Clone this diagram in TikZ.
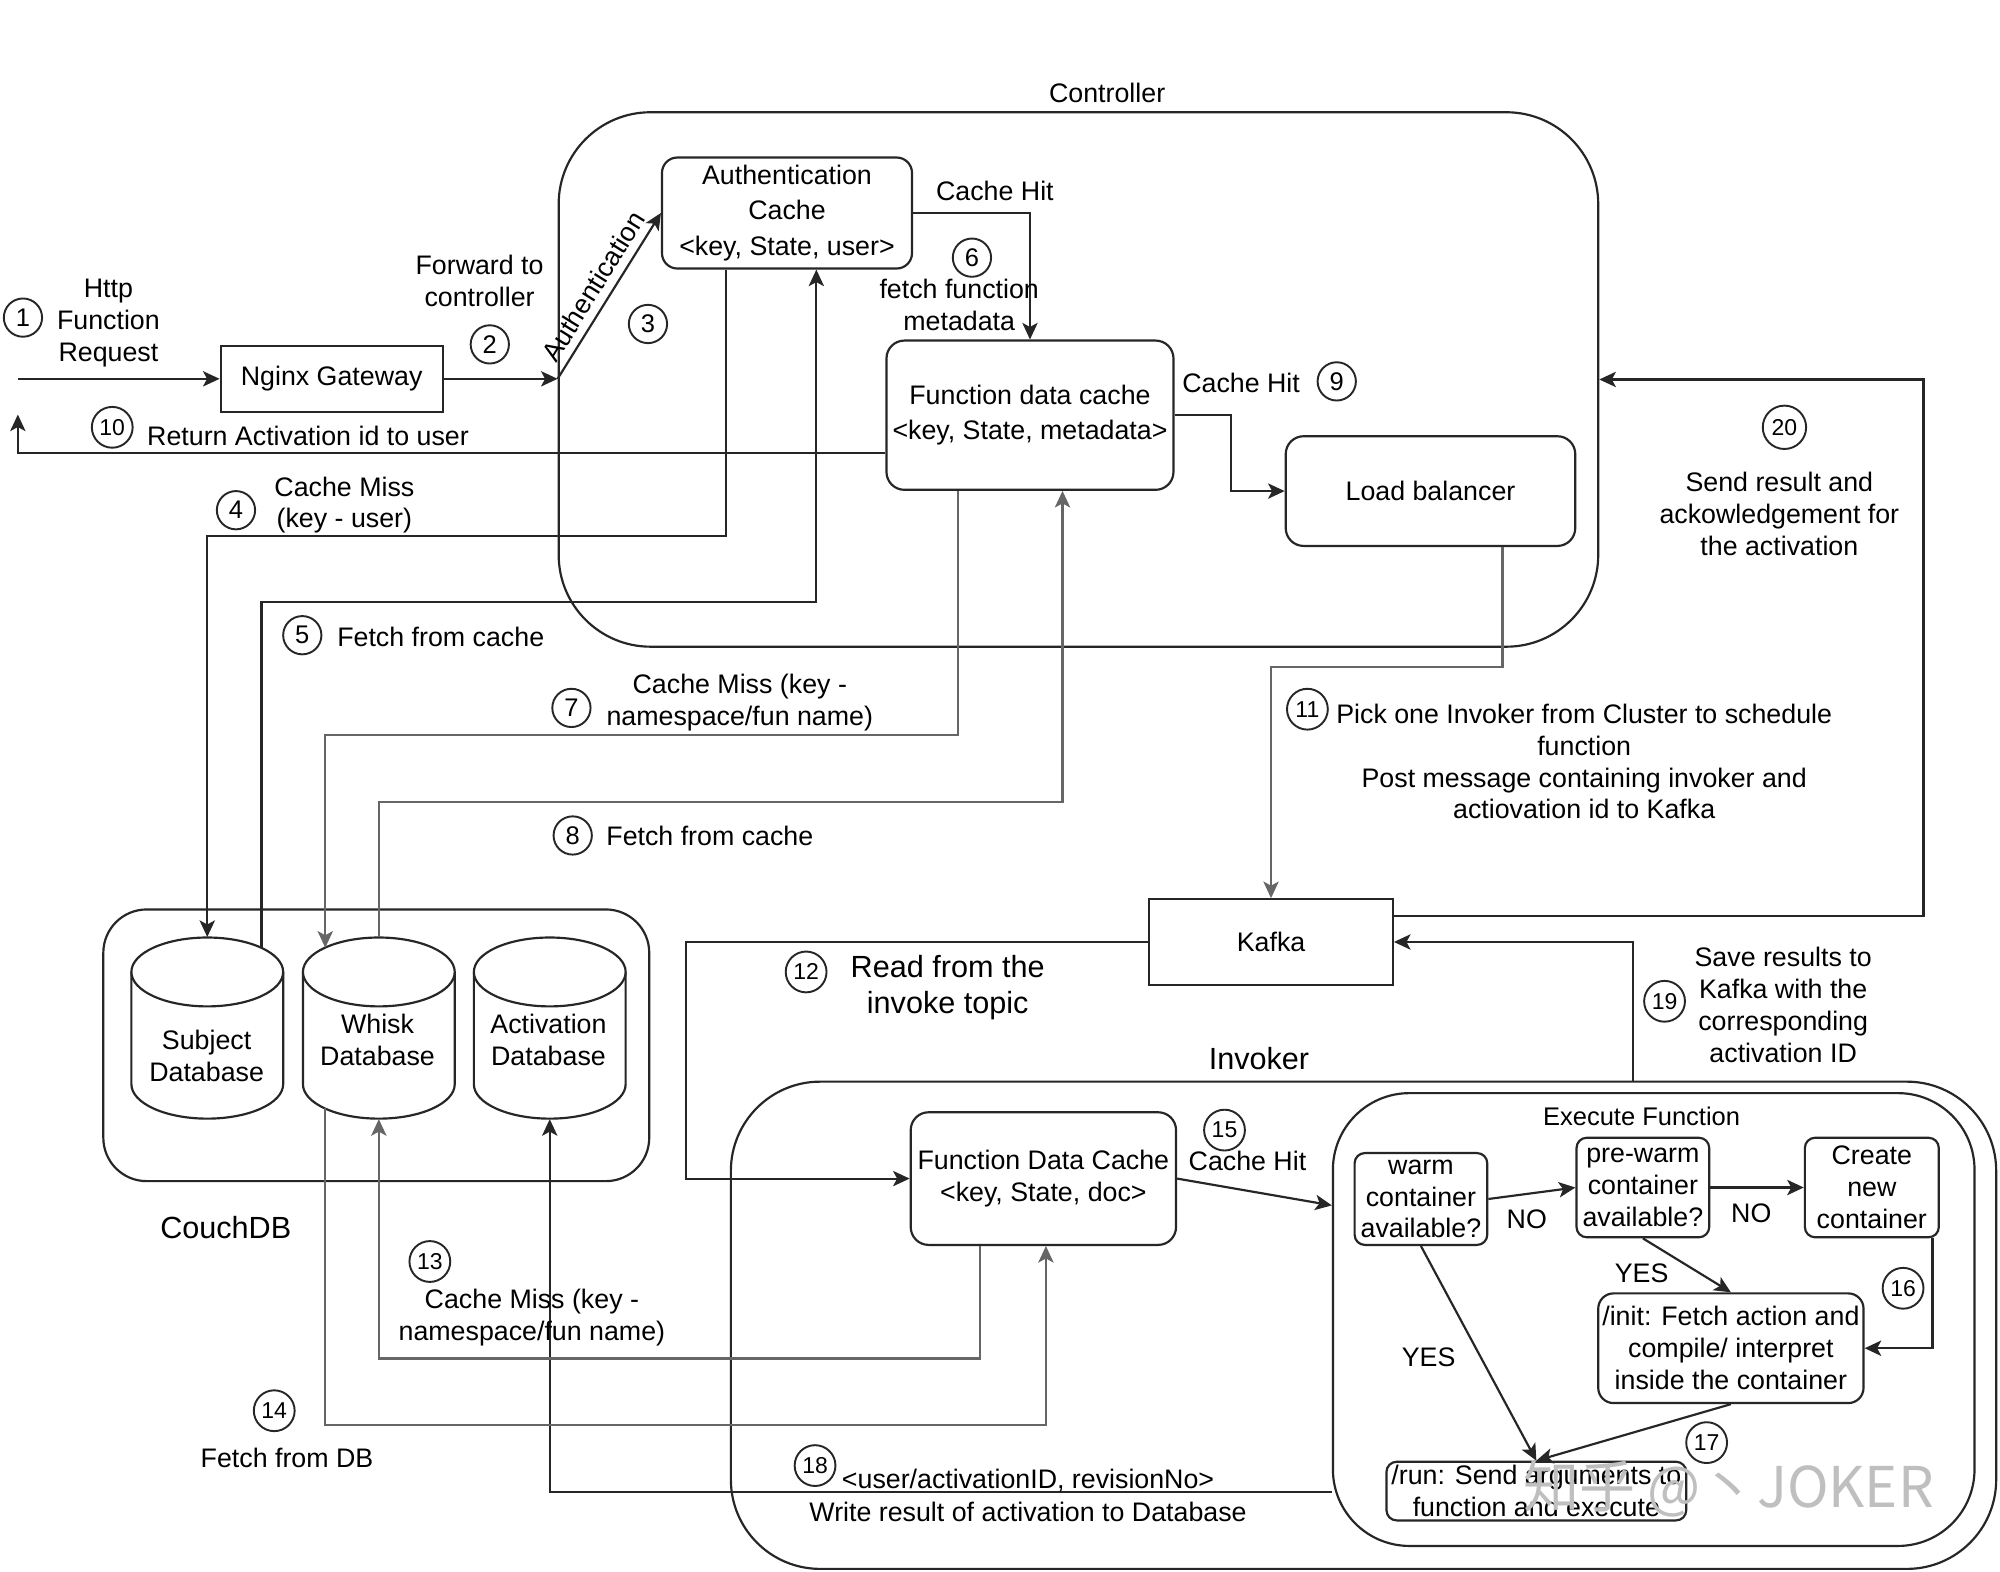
\documentclass[tikz,border=0pt]{standalone}
\usepackage{fontspec}
\setmainfont{Liberation Sans}
\newfontfamily\cjkfont{Noto Sans CJK SC}
\usetikzlibrary{arrows.meta,fit,calc}
\newcommand\dbcyl[3]{%
  \fill[white] (#1-59.5,#2+27) -- (#1-59.5,#3-27) arc[start angle=180,end angle=360,x radius=29.75pt,y radius=13.5pt] -- (#1+59.5,#2+27) -- cycle;
  \draw[ln] (#1-59.5,#2+27) -- (#1-59.5,#3-27) arc[start angle=180,end angle=360,x radius=29.75pt,y radius=13.5pt] -- (#1+59.5,#2+27);
  \draw[ln,fill=white] (#1,#2+27) ellipse[x radius=29.75pt,y radius=13.5pt];
}
\begin{document}
\begin{tikzpicture}[x=0.5pt,y=-0.5pt,
  font=\fontsize{10.5}{12.5}\selectfont,
  ln/.style={draw=black!85,line width=0.85pt},
  gl/.style={draw=black!60,line width=0.85pt},
  arr/.style={ln,-{Stealth[length=6.5pt,width=6pt,inset=1.6pt]}},
  garr/.style={gl,-{Stealth[length=6.5pt,width=6pt,inset=1.6pt]}},
  sbox/.style={draw=black!85,line width=0.85pt,inner sep=0pt,align=center,fill=white,anchor=center},
  rbox/.style={sbox,rounded corners=6pt},
  dims/.style 2 args={minimum width=#1*0.5pt,minimum height=#2*0.5pt},
  cont/.style={draw=black!85,line width=0.85pt,inner sep=0pt},
  num/.style={circle,draw=black!85,line width=0.75pt,inner sep=0pt,minimum size=15pt,font=\fontsize{10}{10}\selectfont},
  numw/.style={num,minimum size=16pt,font=\fontsize{9}{9}\selectfont},
  txt/.style={inner sep=0pt,align=center},
  big/.style={txt,font=\fontsize{12}{14}\selectfont},
]
\useasboundingbox (0,0) rectangle (1568,1232);
\fill[white] (0,0) rectangle (1568,1232);

% containers
\node[cont,rounded corners=36pt,fit={(438,88)(1253,507)}] (ctrl) {};
\node[txt] (ctrlT) at (868,73) {Controller};
\node[cont,rounded corners=17pt,fit={(81,713)(509,926)}] (couch) {};
\node[big] (couchT) at (177,962) {CouchDB};
\node[cont,rounded corners=35pt,fit={(573,848)(1565,1230)}] (inv) {};
\node[big] (invT) at (987,830) {Invoker};
\node[cont,rounded corners=30pt,fit={(1045,857)(1548,1212)}] (exec) {};
\node[txt,font=\fontsize{10}{12}\selectfont] (execT) at (1287,875) {Execute Function};

% boxes
\node[sbox,dims={174}{52}] (nginx) at (260,297) {Nginx Gateway};
\node[rbox,dims={196}{87},font=\fontsize{10.5}{14}\selectfont] (auth) at (617,167) {Authentication\\Cache\\<key, State, user>};
\node[rbox,rounded corners=7pt,dims={225}{117},font=\fontsize{10.5}{14}\selectfont] (fdc) at (807.5,325.5) {Function data cache\\<key, State, metadata>};
\node[rbox,rounded corners=7pt,dims={227}{86}] (lb) at (1121.5,385) {Load balancer};
\node[sbox,dims={191}{67}] (kafka) at (996.5,738.5) {Kafka};
\node[rbox,rounded corners=7pt,dims={208}{104}] (ifdc) at (818,924) {Function Data Cache\\<key, State, doc>};
\node[rbox,rounded corners=4pt,dims={104}{72}] (warm) at (1114,940) {warm\\container\\available?};
\node[rbox,rounded corners=4pt,dims={104}{78}] (pre) at (1288,931) {pre-warm\\container\\available?};
\node[rbox,rounded corners=4pt,dims={105}{78}] (create) at (1467.5,931) {Create\\new\\container};
\node[rbox,rounded corners=6pt,dims={208}{86}] (init) at (1357,1057) {/init: Fetch action and\\compile/ interpret\\inside the container};
\node[rbox,rounded corners=4pt,dims={235}{46}] (run) at (1204.5,1169) {/run: Send arguments to\\function and execute};

% databases
\dbcyl{162.5}{735}{877}
\dbcyl{297}{735}{877}
\dbcyl{431}{735}{877}
\node[inner sep=0pt,fit={(103,735)(222,877)}] (subj) {};
\node[inner sep=0pt,fit={(237,735)(357,877)}] (whisk) {};
\node[inner sep=0pt,fit={(371,735)(491,877)}] (act) {};
\node[txt] (subjT) at (162,828) {Subject\\Database};
\node[txt] (whiskT) at (296,815) {Whisk\\Database};
\node[txt] (actT) at (430,815) {Activation\\Database};

% connectors
\coordinate (inp) at (14,297);
\draw[arr] (inp) -- (nginx.west);
\coordinate (ctrlin) at (ctrl.west |- nginx.east);
\draw[arr] (nginx.east) -- (ctrlin);
\draw[arr] (ctrlin) -- node[sloped,above=3pt,inner sep=0pt] (authL) {Authentication} (auth.west);
\draw[arr] (auth.east) -| (fdc.north);
\draw[arr] (fdc.east) -- ++(44,0) |- (lb.west);
\coordinate (retend) at (14,325);
\draw[arr] (fdc.west |- 0,355) -| (retend);
\draw[arr] (569,0 |- auth.south) -- (569,420) -| (subj.north);
\coordinate (subjR) at (205,743);
\draw[arr] (subjR) -- (205,472) -| (640,0 |- auth.south);
\coordinate (whiskL) at (255,743);
\draw[garr] (751,0 |- fdc.south) -- (751,576) -| (whiskL);
\draw[garr] (whisk.north) -- (297,629) -| (833,0 |- fdc.south);
\draw[garr] (1178,0 |- lb.south) -- (1178,523) -| (kafka.north);
\draw[arr] (kafka.east |- 0,718) -- (1508,718) |- (ctrl.east);
\draw[arr] (kafka.west) -- (538,0 |- kafka.west) |- (ifdc.west);
\draw[arr] (1280,0 |- inv.north) |- (kafka.east);
\draw[arr] (ifdc.east) -- (exec.west |- 0,945);
\draw[arr] (warm.east) -- (pre.west);
\draw[arr] (pre.east) -- (create.west);
\draw[arr] (pre.south) -- (init.north);
\draw[arr] (1515,0 |- create.south) |- (init.east);
\draw[arr] (warm.south) -- (run.north);
\draw[arr] (init.south) -- (run.north);
\draw[arr] (exec.west |- 0,1170) -| (act.south);
\draw[garr] (768,0 |- ifdc.south) -- (768,1065) -| (whisk.south);
\coordinate (whiskBL) at (255,869);
\draw[garr] (whiskBL) -- (255,1117) -| (820,0 |- ifdc.south);

% labels
\node[txt] (tHttp) at (85,253) {Http\\Function\\Request};
\node[num] (n1) at (18,249) {1};
\node[txt] (tFwd) at (376,220) {Forward to\\controller};
\node[num] (n2) at (384,270) {2};
\node[num] (n3) at (508,254) {3};
\node[txt] (tHit1) at (780,150) {Cache Hit};
\node[num] (n6) at (762,202) {6};
\node[txt] (tFetchMeta) at (752,239) {fetch function\\metadata};
\node[txt] (tHit2) at (973,300) {Cache Hit};
\node[num] (n9) at (1048,299) {9};
\node[numw] (n10) at (88,335) {10};
\node[txt,anchor=west] (tRet) at (115,342) {Return Activation id to user};
\node[num] (n4) at (185,400) {4};
\node[txt] (tMiss1) at (270,396) {Cache Miss\\(key - user)};
\node[num] (n5) at (237,498) {5};
\node[txt,anchor=west] (tF5) at (264,499) {Fetch from cache};
\node[num] (n7) at (448,555) {7};
\node[txt] (tMiss7) at (580,551) {Cache Miss (key -\\namespace/fun name)};
\node[num] (n8) at (449,655) {8};
\node[txt,anchor=west] (tF8) at (475,655) {Fetch from cache};
\node[numw] (n11) at (1025,556) {11};
\node[txt] (t11) at (1242,597) {Pick one Invoker from Cluster to schedule\\function\\Post message containing invoker and\\actiovation id to Kafka};
\node[numw,minimum size=17pt] (n20) at (1399,335) {20};
\node[txt] (t20) at (1395,403) {Send result and\\ackowledgement for\\the activation};
\node[numw] (n12) at (632,762) {12};
\node[big] (t12) at (743,774) {Read from the\\invoke topic};
\node[numw] (n19) at (1305,785) {19};
\node[txt] (t19) at (1398,788) {Save results to\\Kafka with the\\corresponding\\activation ID};
\node[numw] (n15) at (960,886) {15};
\node[txt] (t15) at (978,910) {Cache Hit};
\node[txt] (tNo1) at (1197,956) {NO};
\node[txt] (tNo2) at (1373,951) {NO};
\node[txt] (tYes1) at (1287,998) {YES};
\node[txt] (tYes2) at (1120,1064) {YES};
\node[numw] (n16) at (1492,1010) {16};
\node[numw] (n17) at (1338,1131) {17};
\node[numw] (n13) at (337,989) {13};
\node[txt] (t13) at (417,1033) {Cache Miss (key -\\namespace/fun name)};
\node[numw] (n14) at (215,1106) {14};
\node[txt] (t14) at (225,1143) {Fetch from DB};
\node[numw] (n18) at (639,1149) {18};
\node[txt] (t18a) at (806,1161) {<user/activationID, revisionNo>};
\node[txt] (t18b) at (806,1185) {Write result of activation to Database};
\node[txt,font=\cjkfont\fontsize{22}{22}\selectfont,text=gray!50] (wm) at (1355,1167) {知乎 @丶JOKER};
\end{tikzpicture}
\end{document}
